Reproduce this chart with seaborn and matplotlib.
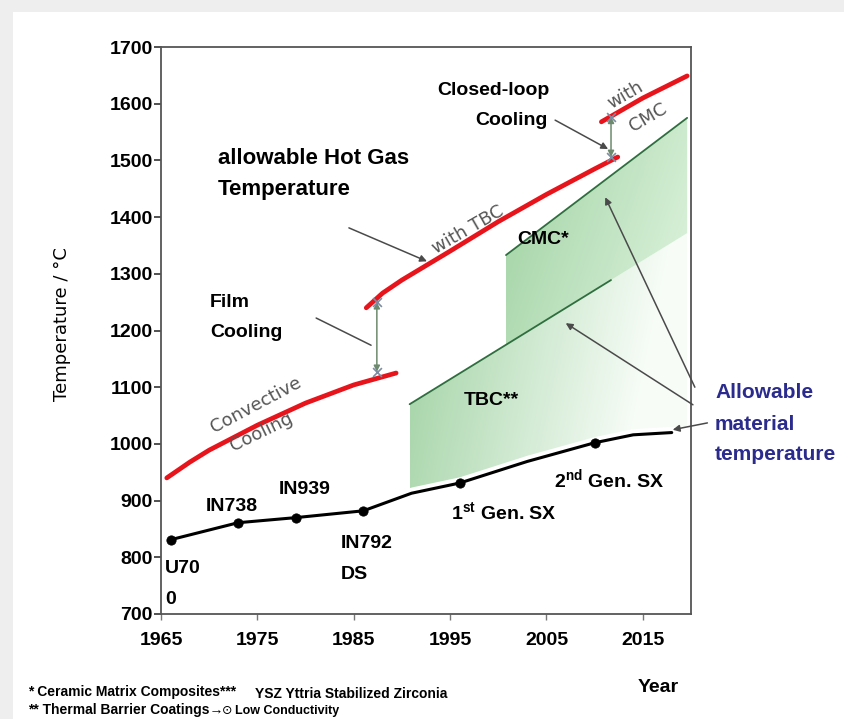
import numpy as np
import pandas as pd
import matplotlib
matplotlib.use("Agg")
import matplotlib.pyplot as plt
import seaborn as sns
from matplotlib.patches import Rectangle

# ---------------------------------
# Data
# ---------------------------------

# allowable material temperature (black line)
mat_years = [1966, 1973, 1979, 1986, 1991, 1996, 2003, 2010, 2014, 2018]
mat_temp = [831, 861, 870, 882, 913, 931, 969, 1002, 1016, 1020]

# alloys marked on the black line
alloy_years = [1966, 1973, 1979, 1986, 1996, 2010]
alloy_temp = [831, 861, 870, 882, 931, 1002]

# allowable hot gas temperature (red segments)
conv_years = [1965.6, 1968, 1970, 1975, 1980, 1985, 1989.4]
conv_temp = [940, 968, 989, 1033, 1072, 1104, 1125]
tbc_years = [1986.3, 1988, 1990, 1995, 2000, 2005, 2010, 2012.4]
tbc_temp = [1240, 1266, 1289, 1340, 1392, 1440, 1485, 1506]
cmc_years = [2010.7, 2015, 2019.6]
cmc_temp = [1568, 1610, 1649]

# material limit lines (green regions)
tbc_line_years = [1990.8, 2011.7]
tbc_line_temp = [1070, 1289]
cmc_line_years = [2000.8, 2019.6]
cmc_line_temp = [1333, 1575]

# cooling steps (double arrows)
film_step = (1987.4, 1250, 1127)
closed_step = (2011.7, 1577, 1506)

x_ticks = [1965, 1975, 1985, 1995, 2005, 2015]
y_ticks = list(range(700, 1701, 100))

# ---------------------------------
# Style
# ---------------------------------

sns.set_style("white")
BOLD = ["Liberation Sans Narrow", "Liberation Sans", "DejaVu Sans"]
plt.rcParams["font.family"] = BOLD
plt.rcParams["text.color"] = "black"
plt.rcParams["xtick.color"] = "black"
plt.rcParams["ytick.color"] = "black"
plt.rcParams["mathtext.fontset"] = "custom"
plt.rcParams["mathtext.bf"] = "Liberation Sans:bold"
plt.rcParams["mathtext.rm"] = "Liberation Sans:bold"

RED = "#e8141c"
GREEN_LINE = "#2f6e3f"
ARROW = "#4a4a4a"
STEP = "#6e8a6e"

fig = plt.figure(figsize=(8.44, 7.19), dpi=100)
fig.patch.set_facecolor("#eeeeee")
fig.patches.append(Rectangle((13 / 844, 0), 1, 1 - 12 / 719,
                             transform=fig.transFigure, facecolor="white",
                             edgecolor="none", zorder=-5))
ax = fig.add_axes([161 / 844, 1 - 614 / 719, 530 / 844, 567 / 719])
ax.set_zorder(2)
ax.set_facecolor("white")

# ---------------------------------
# Green gradient regions
# ---------------------------------

def tbc_upper(x):
    k = (tbc_line_temp[1] - tbc_line_temp[0]) / (tbc_line_years[1] - tbc_line_years[0])
    return tbc_line_temp[0] + k * (np.asarray(x) - tbc_line_years[0])


def gradient_region(x, lower, upper, dark, light, fade_w, vert_w, x0, x1):
    poly = ax.fill_between(x, lower, upper, facecolor="none", edgecolor="none")
    ylo, yhi = float(np.min(lower)), float(np.max(upper))
    gx = np.linspace(x0, x1, 300)
    gy = np.linspace(ylo, yhi, 300)
    XX, YY = np.meshgrid(gx, gy)
    t = fade_w * (XX - x0) / (x1 - x0) + vert_w * (1 - (YY - ylo) / (yhi - ylo))
    t = np.clip(t, 0, 1)[..., None]
    img = np.array(dark)[None, None, :] * (1 - t) + np.array(light)[None, None, :] * t
    im = ax.imshow(img, extent=[x0, x1, ylo, yhi], origin="lower",
                   aspect="auto", zorder=1, interpolation="bilinear")
    im.set_clip_path(poly.get_paths()[0], transform=ax.transData)


dark = (0.62, 0.82, 0.63)
light = (0.97, 0.99, 0.97)

xs_tbc = np.linspace(tbc_line_years[0], 2019.6, 200)
gradient_region(xs_tbc, np.interp(xs_tbc, mat_years, mat_temp) + 10,
                tbc_upper(xs_tbc), dark, light, 1.05, 0.2,
                tbc_line_years[0], 2019.6)

xs_cmc = np.linspace(cmc_line_years[0], cmc_line_years[1], 200)
cmc_up = np.interp(xs_cmc, cmc_line_years, cmc_line_temp)
gradient_region(xs_cmc, tbc_upper(xs_cmc), cmc_up, dark, (0.88, 0.96, 0.88),
                0.7, 0.3, cmc_line_years[0], cmc_line_years[1])

ax.plot(tbc_line_years, tbc_line_temp, color=GREEN_LINE, lw=1.3, zorder=3)
ax.plot(cmc_line_years, cmc_line_temp, color=GREEN_LINE, lw=1.3, zorder=3)

# ---------------------------------
# Lines
# ---------------------------------

sns.lineplot(x=mat_years, y=mat_temp, color="black", lw=2.2, ax=ax, zorder=4)
sns.scatterplot(x=alloy_years, y=alloy_temp, color="black", s=45,
                marker="o", ax=ax, zorder=5, edgecolor="black")

for yrs, tmp in [(conv_years, conv_temp), (tbc_years, tbc_temp), (cmc_years, cmc_temp)]:
    sns.lineplot(x=yrs, y=tmp, color=RED, lw=3.4, ax=ax, zorder=4)

for xs, t_top, t_bot in [film_step, closed_step]:
    ax.annotate("", xy=(xs, t_bot), xytext=(xs, t_top),
                arrowprops=dict(arrowstyle="<|-|>", color=STEP, lw=1.1,
                                mutation_scale=9, shrinkA=0, shrinkB=0), zorder=6)
    ax.scatter([xs, xs], [t_top, t_bot], marker="x", color="#7d8ca3",
               s=40, linewidths=1.2, zorder=6)

# ---------------------------------
# Arrows / pointer lines
# ---------------------------------

def arrow(tail, head, head_on=True):
    ax.annotate("", xy=head, xytext=tail, annotation_clip=False,
                arrowprops=dict(arrowstyle="-|>" if head_on else "-",
                                color=ARROW, lw=1.1, mutation_scale=10,
                                shrinkA=0, shrinkB=0), zorder=6)

arrow((1984.5, 1381), (1992.6, 1322))              # hot gas
arrow((1981.1, 1222), (1986.8, 1174), head_on=False)  # film cooling
arrow((2005.9, 1571), (2011.4, 1520))              # closed-loop
arrow((2020.4, 1100), (2011.1, 1435))              # to CMC
arrow((2020.2, 1069), (2007.0, 1213))              # to TBC
arrow((2021.7, 1037), (2018.1, 1025))              # to material line

# ---------------------------------
# Text in the plot
# ---------------------------------

def btxt(x, y, s, size=14, ha="left", **kw):
    ax.text(x, y, s, fontsize=size, fontweight="bold", ha=ha, va="center",
            family=BOLD, zorder=7, **kw)

btxt(1970.9, 1504, "allowable Hot Gas", 16)
btxt(1970.9, 1448, "Temperature", 16)
btxt(1970.1, 1250, "Film", 14)
btxt(1970.1, 1196, "Cooling", 14)
btxt(2005.3, 1624, "Closed-loop", 14, ha="right")
btxt(2005.1, 1571, "Cooling", 14, ha="right")
btxt(2004.7, 1360, "CMC*", 14, ha="center")
btxt(1999.3, 1077, "TBC**", 14, ha="center")

btxt(1965.4, 781, "U70", 14)
btxt(1965.4, 725, "0", 14)
btxt(1972.3, 889, "IN738", 14, ha="center")
btxt(1979.9, 919, "IN939", 14, ha="center")
btxt(1983.7, 825, "IN792", 14)
btxt(1983.7, 769, "DS", 14)
btxt(1995.1, 878, r"1$^{\mathbf{st}}$ Gen. SX", 14)
btxt(2005.8, 936, r"2$^{\mathbf{nd}}$ Gen. SX", 14)

def gtxt(x, y, s, rot):
    ax.text(x, y, s, fontsize=13, color="#555555", ha="center", va="center",
            rotation=rot, rotation_mode="anchor", family="DejaVu Sans", zorder=7)

gtxt(1996.9, 1378, "with TBC", 30)
gtxt(2013.2, 1615, "with", 30)
gtxt(2015.5, 1575, "CMC", 30)
gtxt(1974.9, 1069, "Convective", 28)
gtxt(1975.4, 1021, "Cooling", 26)

# ---------------------------------
# Axes
# ---------------------------------

ax.set_xlim(1965, 2020)
ax.set_ylim(700, 1700)
ax.set_xticks(x_ticks)
ax.set_yticks(y_ticks)
ax.set_xticklabels([str(v) for v in x_ticks], fontsize=14, fontweight="bold")
ax.set_yticklabels([str(v) for v in y_ticks], fontsize=14, fontweight="bold")
ax.tick_params(axis="x", direction="out", length=4, width=1, color="#777777",
               labelcolor="black", pad=9)
ax.tick_params(axis="y", direction="out", length=5, width=1.2, color="#333333",
               labelcolor="black", pad=1)
ax.tick_params(bottom=True, left=True)
for sp in ax.spines.values():
    sp.set_color("#555555")
    sp.set_linewidth(1.3)
ax.set_xlabel("")
ax.set_ylabel("")

# ---------------------------------
# Text outside the axes
# ---------------------------------

fig.text(62 / 844, 1 - 324 / 719, "Temperature / °C", rotation=90,
         ha="center", va="center", fontsize=13, family="DejaVu Sans")
fig.text(658 / 844, 1 - 687 / 719, "Year", ha="center", va="center",
         fontsize=14, fontweight="bold")
for i, s in enumerate(["Allowable", "material", "temperature"]):
    fig.text(715 / 844, 1 - (393 + 31 * i) / 719, s, ha="left", va="center",
             fontsize=15, fontweight="bold", color="#2b2b8e")

fig.text(28 / 844, 1 - 692 / 719, "* Ceramic Matrix Composites***",
         ha="left", va="center", fontsize=10, fontweight="bold")
fig.text(255 / 844, 1 - 694 / 719, "YSZ Yttria Stabilized Zirconia",
         ha="left", va="center", fontsize=10, fontweight="bold")
fig.text(28 / 844, 1 - 710 / 719, "** Thermal Barrier Coatings\u2192",
         ha="left", va="center", fontsize=10, fontweight="bold")
fig.text(222 / 844, 1 - 711 / 719, "\u2299", ha="left", va="center",
         fontsize=9, family="DejaVu Sans")
fig.text(235 / 844, 1 - 711 / 719, "Low Conductivity",
         ha="left", va="center", fontsize=9, fontweight="bold")

fig.savefig("out.png", dpi=100, facecolor=fig.get_facecolor())
